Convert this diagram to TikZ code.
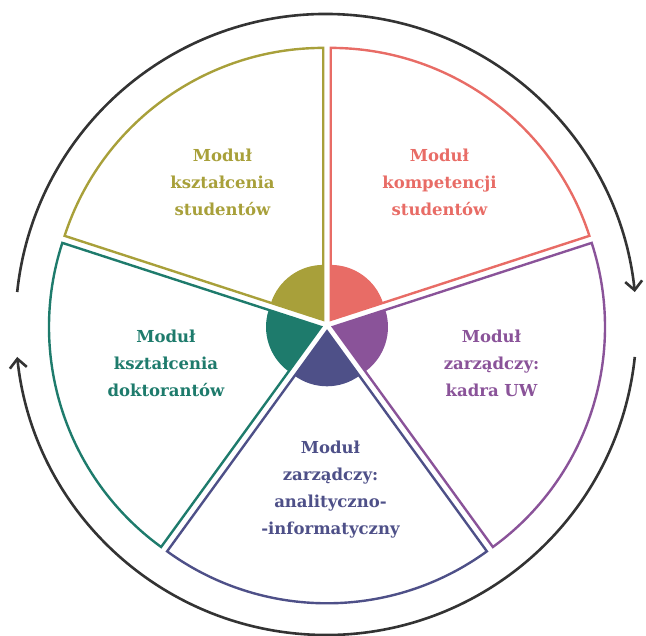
\documentclass[tikz,border=0pt]{standalone}
\usepackage{fontspec}
\setmainfont{DejaVu Serif}
\usetikzlibrary{arrows.meta,calc}
\definecolor{cred}{HTML}{E86C66}
\definecolor{colive}{HTML}{A8A03A}
\definecolor{cpurple}{HTML}{8A5399}
\definecolor{cteal}{HTML}{1E7B6C}
\definecolor{cnavy}{HTML}{4E5088}
\definecolor{cdark}{HTML}{333333}
\tikzset{
  wedgeline/.style={line width=2.4pt, line join=miter},
  cycarrow/.style={draw=cdark, line width=2.6pt, -{Straight Barb[length=9pt,width=17pt,line width=2.6pt]}},
  label/.style={align=center, font=\bfseries\fontsize{16.5}{27}\selectfont, inner sep=0pt},
}
\begin{document}
\begin{tikzpicture}[x=1pt,y=1pt]
\useasboundingbox (0,0) rectangle (646,636);
\coordinate (C) at (327,311);
\coordinate (O) at (326,311.5);
\foreach \b/\c/\n in {54/cred/r,126/colive/o,198/cteal/t,270/cnavy/n,342/cpurple/p}{
  \coordinate (V\n) at ($(C)+(\b:6.3)$);
  \fill[\c] (V\n) -- ++(\b-36:55) arc[start angle=\b-36, end angle=\b+36, radius=55] -- cycle;
  \draw[\c, wedgeline] (V\n) -- ++(\b-36:272) arc[start angle=\b-36, end angle=\b+36, radius=272] -- cycle;
}
\draw[cycarrow] (O) ++(174:310.5) arc[start angle=174, end angle=6, radius=310.5];
\draw[cycarrow] (O) ++(-6:310.5) arc[start angle=-6, end angle=-174, radius=310.5];
\node[label, text=cred] (lr) at (439.5,454) {Moduł\\kompetencji\\studentów};
\node[label, text=colive] (lo) at (222.5,454) {Moduł\\kształcenia\\studentów};
\node[label, text=cpurple] (lp) at (491.5,273) {Moduł\\zarządczy:\\kadra UW};
\node[label, text=cteal] (lt) at (166,273) {Moduł\\kształcenia\\doktorantów};
\node[label, text=cnavy] (ln) at (330.5,146) {Moduł\\zarządczy:\\analityczno-\\-informatyczny};
\end{tikzpicture}
\end{document}
